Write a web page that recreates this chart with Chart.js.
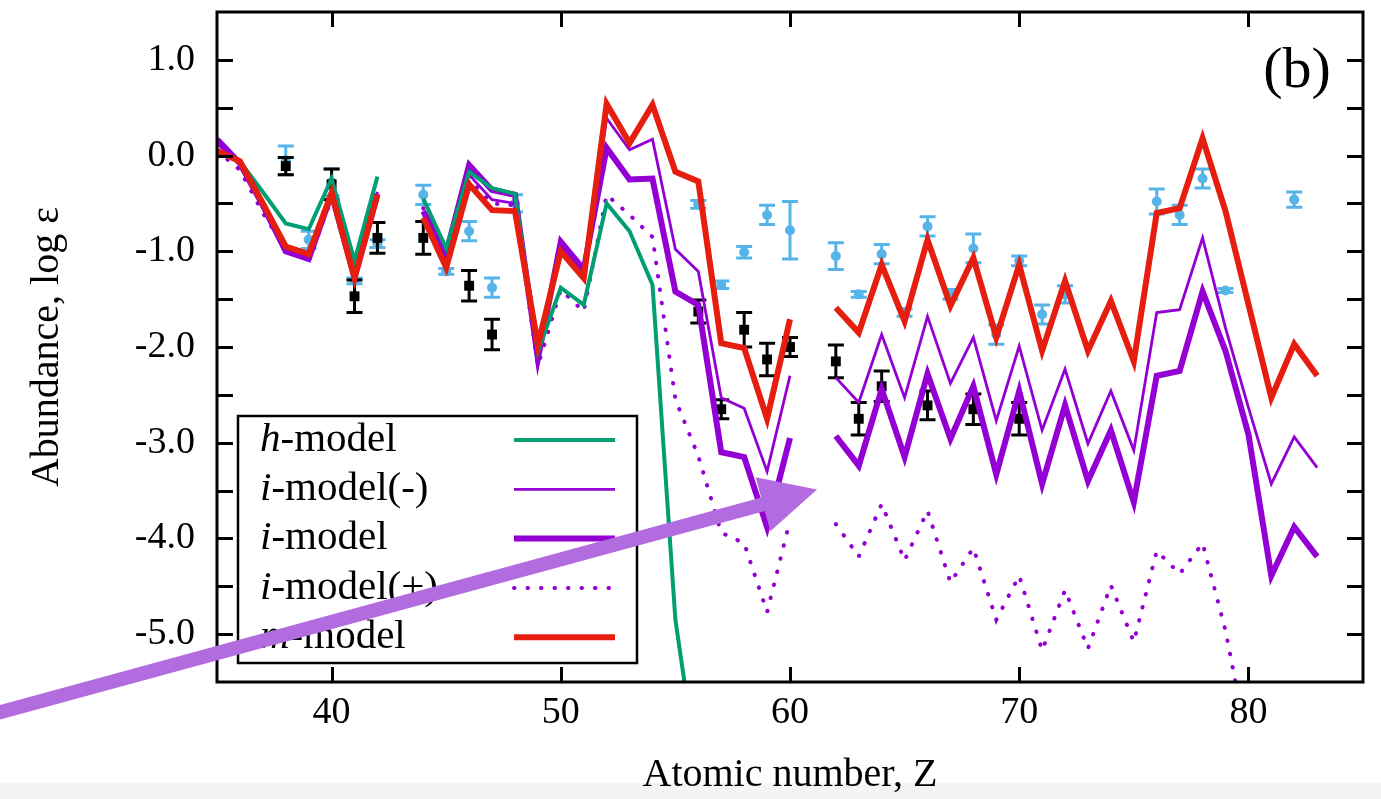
<!DOCTYPE html>
<html>
<head>
<meta charset="utf-8">
<title>Abundance vs atomic number</title>
<script src="https://cdn.jsdelivr.net/npm/chart.js@4.4.0/dist/chart.umd.min.js"></script>
<style>
  html, body { margin: 0; padding: 0; background: #fff; }
  #wrap { width: 1381px; height: 799px; position: relative; }
</style>
</head>
<body>
<div id="wrap"><canvas id="abundChart"></canvas></div>
<script>
// atomic numbers for the model curves (null = element skipped)
const atomicNumbers = [35, 36, 37, 38, 39, 40, 41, 42, 43, 44, 45, 46, 47, 48, 49, 50, 51, 52, 53, 54, 55, 56, 57, 58, 59,
    60, 61, 62, 63, 64, 65, 66, 67, 68, 69, 70, 71, 72, 73, 74, 75, 76, 77, 78, 79, 80, 81, 82, 83];

const hModel = [0.03, -0.06, -0.38, -0.71, -0.77, -0.24, -1.1, -0.22, null, -0.45, -0.97, -0.17, -0.34, -0.4, -2.05, -1.38, -1.56,
    -0.5, -0.79, -1.35, -4.85, -6.5];

const iModelMinus = [0.12, -0.07, -0.5, -0.97, -1.06, -0.36, -1.25, -0.38, null, -0.62, -1.1, -0.2, -0.46, -0.5, -2.05, -0.95, -1.23,
    0.39, 0.06, 0.17, -0.98, -1.21, -2.53, -2.64, -3.3, -2.3, null, -2.32, -2.58, -1.87, -2.53, -1.68, -2.38, -1.9, -2.77,
    -1.99, -2.87, -2.23, -3.01, -2.46, -3.08, -1.64, -1.61, -0.86, -1.8, -2.63, -3.43, -2.94, -3.26];

const iModel = [0.17, -0.08, -0.52, -1.0, -1.08, -0.4, -1.27, -0.4, null, -0.58, -1.02, -0.1, -0.36, -0.41, -2.12, -0.9, -1.19,
    0.08, -0.25, -0.24, -1.42, -1.56, -3.1, -3.15, -3.88, -2.95, null, -2.93, -3.24, -2.44, -3.15, -2.28, -2.96, -2.41, -3.33,
    -2.46, -3.43, -2.61, -3.4, -2.87, -3.62, -2.3, -2.25, -1.42, -2.04, -2.91, -4.39, -3.88, -4.19];

const iModelPlus = [0.05, -0.15, -0.6, -0.98, -1.1, -0.45, -1.3, -0.45, null, -0.55, -1.15, -0.25, -0.5, -0.52, -2.2, -1.4, -1.63,
    -0.41, -0.62, -0.85, -2.55, -3.14, -3.94, -4.05, -4.77, -3.81, null, -3.85, -4.19, -3.64, -4.23, -3.71, -4.46, -4.1, -4.85,
    -4.39, -5.17, -4.54, -5.15, -4.49, -5.08, -4.13, -4.37, -4.05, -4.96, -6.2];

const mModel = [0.05, -0.06, -0.5, -0.95, -1.03, -0.39, -1.28, -0.41, null, -0.65, -1.17, -0.3, -0.57, -0.58, -1.98, -1.0, -1.28,
    0.54, 0.13, 0.53, -0.17, -0.27, -1.96, -2.01, -2.75, -1.71, null, -1.59, -1.85, -1.14, -1.73, -0.88, -1.57, -1.07, -1.9,
    -1.14, -2.04, -1.31, -2.04, -1.52, -2.15, -0.6, -0.55, 0.18, -0.58, -1.55, -2.53, -1.97, -2.3];

// observed abundances with error bars
const obsBlackZ = [38, 40, 41, 42, 44, 46, 47, 56, 57, 58, 59, 60, 62, 63, 64, 66, 68, 70];
const obsBlackVal = [-0.11, -0.3, -1.47, -0.86, -0.86, -1.36, -1.87, -1.63, -2.65, -1.82, -2.13, -2.0, -2.15, -2.75, -2.41,
    -2.61, -2.65, -2.75];
const obsBlackErr = [0.09, 0.16, 0.17, 0.16, 0.17, 0.16, 0.16, 0.12, 0.1, 0.18, 0.17, 0.1, 0.17, 0.17, 0.16, 0.15, 0.16, 0.17];

const obsBlueZ = [38, 39, 40, 41, 42, 44, 45, 46, 47, 48, 56, 57, 58, 59, 60, 62, 63, 64, 65, 66, 67, 68, 69, 70, 71, 72,
    76, 77, 78, 79, 82];
const obsBlueVal = [-0.05, -0.88, -0.28, -1.31, -0.92, -0.41, -1.21, -0.79, -1.38, -0.5, -0.51, -1.35, -1.01, -0.62, -0.78,
    -1.05, -1.45, -1.03, -1.64, -0.74, -1.45, -0.97, -1.87, -1.1, -1.66, -1.45, -0.48, -0.62, -0.24, -1.41, -0.46];
const obsBlueErr = [0.15, 0.09, 0.14, 0.03, 0.04, 0.1, 0.03, 0.1, 0.1, 0.09, 0.04, 0.04, 0.06, 0.1, 0.3, 0.14, 0.03, 0.1,
    0.04, 0.1, 0.05, 0.15, 0.1, 0.05, 0.1, 0.09, 0.13, 0.1, 0.1, 0.02, 0.08];

const xTickValues = [40, 50, 60, 70, 80];

// annotation arrow, in data units (Z, log eps)
const arrowTail = [25.46, -5.82];
const arrowTip = [61.18, -3.49];

const serif = "'Liberation Serif', 'Times New Roman', serif";

function toPoints(xs, ys) {
    return xs.map((x, i) => ({ x: x, y: ys[i] === undefined ? null : ys[i] }));
}

// error bars drawn just before the markers of their dataset
const errorBars = {
    id: 'errorBars',
    beforeDatasetDraw(chart, args) {
        const ds = chart.data.datasets[args.index];
        if (!ds.errors) return;
        const ctx = chart.ctx, xs = chart.scales.x, ys = chart.scales.y;
        ctx.save();
        ctx.strokeStyle = ds.backgroundColor;
        ctx.lineWidth = 3;
        ds.data.forEach((p, i) => {
            const px = xs.getPixelForValue(p.x);
            const top = ys.getPixelForValue(p.y + ds.errors[i]);
            const bot = ys.getPixelForValue(p.y - ds.errors[i]);
            ctx.beginPath();
            ctx.moveTo(px, top); ctx.lineTo(px, bot);
            ctx.moveTo(px - 8, top); ctx.lineTo(px + 8, top);
            ctx.moveTo(px - 8, bot); ctx.lineTo(px + 8, bot);
            ctx.stroke();
        });
        ctx.restore();
    }
};

// frame, inward ticks, panel label and legend box
const frameAndLegend = {
    id: 'frameAndLegend',
    beforeDraw(chart) {
        const ctx = chart.ctx;
        ctx.save();
        ctx.fillStyle = '#fff';
        ctx.fillRect(0, 0, chart.width, chart.height);
        ctx.fillStyle = '#f4f4f4';
        ctx.fillRect(0, chart.height - 16, chart.width, 16);
        ctx.restore();
    },
    afterDatasetsDraw(chart) {
        const ctx = chart.ctx, a = chart.chartArea;
        const xs = chart.scales.x, ys = chart.scales.y;
        ctx.save();
        ctx.strokeStyle = '#000';
        ctx.lineWidth = 3;
        ctx.beginPath();
        ys.ticks.forEach(t => {
            if (t.value <= ys.min || t.value >= ys.max) return;
            const py = Math.round(ys.getPixelForValue(t.value)) + 0.5;
            ctx.moveTo(a.left, py); ctx.lineTo(a.left + 16, py);
            ctx.moveTo(a.right, py); ctx.lineTo(a.right - 16, py);
        });
        xs.ticks.forEach(t => {
            const px = Math.round(xs.getPixelForValue(t.value)) + 0.5;
            ctx.moveTo(px, a.bottom); ctx.lineTo(px, a.bottom - 15);
            ctx.moveTo(px, a.top); ctx.lineTo(px, a.top + 15);
        });
        ctx.stroke();
        ctx.strokeRect(a.left, a.top, a.right - a.left, a.bottom - a.top);

        // panel label
        ctx.fillStyle = '#000';
        ctx.font = '58px ' + serif;
        ctx.textAlign = 'center';
        ctx.textBaseline = 'alphabetic';
        ctx.fillText('(b)', a.right - 66, a.top + 75);

        // legend
        const bx = a.left + 21, bw = 399, bh = 247;
        const by = a.bottom - 19 - bh;
        ctx.fillStyle = '#fff';
        ctx.fillRect(bx, by, bw, bh);
        ctx.lineWidth = 2.5;
        ctx.strokeRect(bx, by, bw, bh);
        const items = chart.data.datasets.filter(d => d.showLine);
        const order = ['h-model', 'i-model(-)', 'i-model', 'i-model(+)', 'm-model'];
        order.forEach((name, i) => {
            const d = items.find(it => it.label === name);
            const cy = by + 24 + i * 49.3;
            ctx.textAlign = 'left';
            ctx.textBaseline = 'middle';
            ctx.fillStyle = '#000';
            ctx.font = 'italic 41px ' + serif;
            const first = name.charAt(0);
            ctx.fillText(first, bx + 22, cy);
            const w = ctx.measureText(first).width;
            ctx.font = '41px ' + serif;
            ctx.fillText(name.slice(1), bx + 22 + w, cy);
            ctx.save();
            ctx.strokeStyle = d.borderColor;
            ctx.lineWidth = d.borderWidth;
            ctx.lineCap = d.borderCapStyle || 'butt';
            ctx.setLineDash(d.borderDash || []);
            ctx.beginPath();
            ctx.moveTo(bx + 276, cy); ctx.lineTo(bx + 377, cy);
            ctx.stroke();
            ctx.restore();
        });
        ctx.restore();
    },
    afterDraw(chart) {
        const ctx = chart.ctx, xs = chart.scales.x, ys = chart.scales.y;
        const x0 = xs.getPixelForValue(arrowTail[0]), y0 = ys.getPixelForValue(arrowTail[1]);
        const x1 = xs.getPixelForValue(arrowTip[0]), y1 = ys.getPixelForValue(arrowTip[1]);
        const len = Math.hypot(x1 - x0, y1 - y0);
        const ux = (x1 - x0) / len, uy = (y1 - y0) / len;
        const headLen = 56, headHalf = 28;
        const bxp = x1 - ux * headLen, byp = y1 - uy * headLen;
        ctx.save();
        ctx.strokeStyle = '#b36be0';
        ctx.fillStyle = '#b36be0';
        ctx.lineWidth = 14;
        ctx.beginPath();
        ctx.moveTo(x0, y0); ctx.lineTo(bxp + ux * 2, byp + uy * 2);
        ctx.stroke();
        ctx.beginPath();
        ctx.moveTo(x1, y1);
        ctx.lineTo(bxp - uy * headHalf, byp + ux * headHalf);
        ctx.lineTo(bxp + uy * headHalf, byp - ux * headHalf);
        ctx.closePath();
        ctx.fill();
        ctx.restore();
    }
};

const lineBase = { showLine: true, pointRadius: 0, spanGaps: false, fill: false, tension: 0, borderJoinStyle: 'miter' };

new Chart(document.getElementById('abundChart'), {
    type: 'scatter',
    data: {
        datasets: [
            Object.assign({ label: 'm-model', data: toPoints(atomicNumbers, mModel), borderColor: '#e51e10', borderWidth: 6 }, lineBase),
            Object.assign({ label: 'h-model', data: toPoints(atomicNumbers, hModel), borderColor: '#009e73', borderWidth: 4 }, lineBase),
            Object.assign({ label: 'i-model(-)', data: toPoints(atomicNumbers, iModelMinus), borderColor: '#9400d3', borderWidth: 2.8 }, lineBase),
            Object.assign({ label: 'i-model', data: toPoints(atomicNumbers, iModel), borderColor: '#9400d3', borderWidth: 6 }, lineBase),
            Object.assign({ label: 'i-model(+)', data: toPoints(atomicNumbers, iModelPlus), borderColor: '#9400d3', borderWidth: 4,
                borderDash: [0.5, 13], borderCapStyle: 'round' }, lineBase),
            {
                label: 'obs (squares)', data: toPoints(obsBlackZ, obsBlackVal), errors: obsBlackErr, showLine: false,
                pointStyle: 'rect', pointRadius: 7, pointBorderWidth: 0, backgroundColor: '#000', borderColor: '#000'
            },
            {
                label: 'obs (circles)', data: toPoints(obsBlueZ, obsBlueVal), errors: obsBlueErr, showLine: false,
                pointStyle: 'circle', pointRadius: 5, pointBorderWidth: 0, backgroundColor: '#56b4e9', borderColor: '#56b4e9'
            }
        ]
    },
    options: {
        responsive: true,
        maintainAspectRatio: false,
        animation: false,
        layout: { padding: { top: 12, right: 18, left: 0, bottom: 0 } },
        plugins: { legend: { display: false }, tooltip: { enabled: false } },
        scales: {
            x: {
                type: 'linear', min: 35, max: 85,
                grid: { display: false, drawTicks: false },
                border: { display: false },
                afterBuildTicks: s => { s.ticks = xTickValues.map(v => ({ value: v })); },
                afterFit: s => { s.height = 117; s.paddingLeft = 0; s.paddingRight = 0; },
                ticks: {
                    color: '#000', font: { family: serif, size: 38 }, padding: 8,
                    maxRotation: 0, autoSkip: false, callback: v => String(v)
                },
                title: {
                    display: true, text: 'Atomic number, Z', color: '#000',
                    font: { family: serif, size: 40 }, padding: { top: 0, bottom: 0 }
                }
            },
            y: {
                min: -5.5, max: 1.5,
                grid: { display: false, drawTicks: false },
                border: { display: false },
                afterFit: s => { s.width = 217; s.paddingTop = 0; s.paddingBottom = 0; },
                ticks: {
                    stepSize: 0.5, autoSkip: false, color: '#000', padding: 22,
                    font: { family: serif, size: 38 },
                    callback: v => Math.abs(v - Math.round(v)) < 1e-6 ? v.toFixed(1) : ''
                },
                title: {
                    display: true, text: 'Abundance, log ε', color: '#000',
                    font: { family: serif, size: 40 }, padding: { top: 23, bottom: 0 }
                }
            }
        }
    },
    plugins: [errorBars, frameAndLegend]
});
</script>
</body>
</html>
